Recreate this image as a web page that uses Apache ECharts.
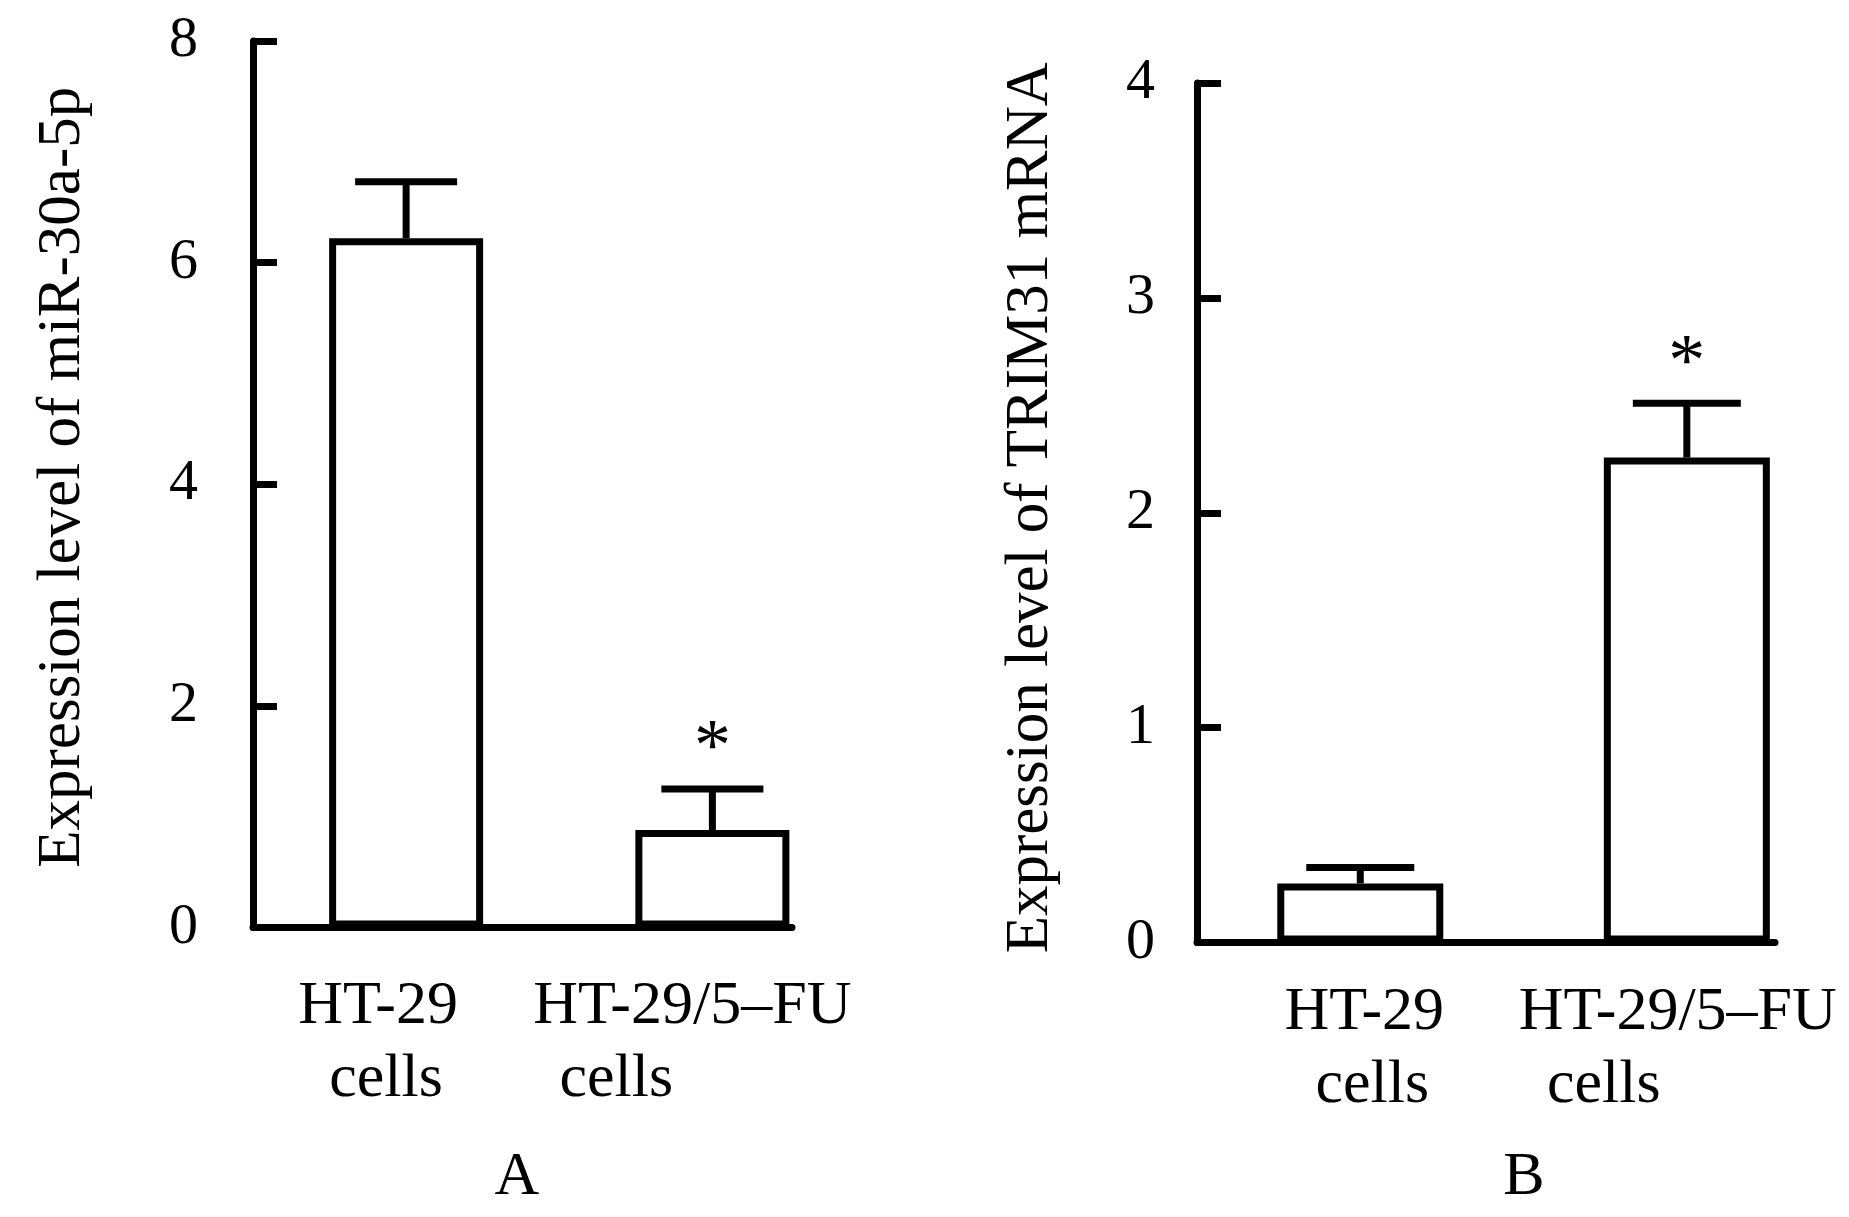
<!DOCTYPE html>
<html><head><meta charset="utf-8">
<script src="https://cdn.jsdelivr.net/npm/echarts@6/dist/echarts.min.js"></script>
<style>html,body{margin:0;padding:0;background:#fff}#c{width:1849px;height:1217px}</style>
</head><body><div id="c"></div>
<script>
// ---- data ----
const positions = [1, 2];
const catLine1 = ['HT-29', 'HT-29/5\u2013FU'];
const catLine2 = ['cells', 'cells'];
const meanA = [6.22, 0.88];
const errA = [0.51, 0.37];
const sigA = ['', '*'];
const meanB = [0.275, 2.257];
const errB = [0.074, 0.253];
const sigB = ['', '*'];
const yTicksA = [0, 2, 4, 6, 8];
const yTicksB = [0, 1, 2, 3, 4];
const yNameA = 'Expression level of miR-30a-5p';
const yNameB = 'Expression level of TRIM31 mRNA';
const panelLabels = ['A', 'B'];

// ---- styles ----
const FONT = 'Liberation Serif';
const LW = 7;
const BLACK = '#000';

function richFor(offsets) {
  const rich = {};
  offsets.forEach((pair, i) => {
    pair.forEach((o, j) => {
      rich['t' + i + j] = {
        fontFamily: FONT, fontSize: 62, color: BLACK, lineHeight: 73,
        padding: o < 0 ? [0, -2 * o, 0, 0] : [0, 0, 0, 2 * o]
      };
    });
  });
  return rich;
}
function labelFmt(v) {
  const i = positions.indexOf(v);
  if (i < 0) return '';
  return '{t' + i + '0|' + catLine1[i] + '}\n{t' + i + '1|' + catLine2[i] + '}';
}

function xAxisFor(gridIndex, max, margin, offsets) {
  return {
    type: 'value', gridIndex, min: 0.5, max,
    splitLine: { show: false },
    axisLine: { show: true, lineStyle: { color: BLACK, width: LW } },
    axisTick: { show: true, inside: true, length: 24, customValues: positions,
                lineStyle: { color: BLACK, width: LW } },
    axisLabel: { show: true, customValues: positions, margin, formatter: labelFmt,
                 rich: richFor(offsets), fontFamily: FONT, fontSize: 62, color: BLACK }
  };
}
function yAxisFor(gridIndex, ticks, name, nameGap, margin, namePad) {
  return {
    type: 'value', gridIndex, min: ticks[0], max: ticks[ticks.length - 1],
    interval: ticks[1] - ticks[0],
    name, nameLocation: 'middle', nameGap,
    nameTextStyle: { fontFamily: FONT, fontSize: 61, color: BLACK, padding: namePad },
    splitLine: { show: false },
    axisLine: { show: true, lineStyle: { color: BLACK, width: LW } },
    axisTick: { show: true, inside: true, length: 24, lineStyle: { color: BLACK, width: LW } },
    axisLabel: { margin, fontFamily: FONT, fontSize: 58, color: BLACK }
  };
}

function barSeries(idx, means, width) {
  return {
    type: 'bar', xAxisIndex: idx, yAxisIndex: idx, barWidth: width,
    data: positions.map((p, i) => [p, means[i]]),
    itemStyle: { color: '#fff', borderColor: BLACK, borderWidth: LW },
    silent: true, z: 2
  };
}
function errSeries(idx, means, errs, sigs, capHalf) {
  return {
    type: 'custom', xAxisIndex: idx, yAxisIndex: idx, z: 3, silent: true,
    data: positions.map((p, i) => [p, means[i], means[i] + errs[i]]),
    renderItem: function (params, api) {
      const base = api.coord([api.value(0), api.value(1)]);
      const top = api.coord([api.value(0), api.value(2)]);
      const st = { stroke: BLACK, lineWidth: LW };
      const children = [
        { type: 'line', shape: { x1: base[0], y1: base[1], x2: top[0], y2: top[1] }, style: st },
        { type: 'line', shape: { x1: top[0] - capHalf, y1: top[1], x2: top[0] + capHalf, y2: top[1] }, style: st }
      ];
      const s = sigs[params.dataIndex];
      if (s) {
        children.push({ type: 'text', x: top[0], y: top[1] - 38,
          style: { text: s, font: '74px ' + FONT, fill: BLACK, align: 'center', verticalAlign: 'middle' } });
      }
      return { type: 'group', children };
    }
  };
}

const chart = echarts.init(document.getElementById('c'), null, { renderer: 'canvas' });
chart.setOption({
  backgroundColor: '#fff',
  animation: false,
  grid: [
    { left: 253, top: 41, width: 539, height: 886.5, containLabel: false, outerBoundsMode: 'none' },
    { left: 1197, top: 83, width: 578, height: 859.5, containLabel: false, outerBoundsMode: 'none' }
  ],
  xAxis: [
    xAxisFor(0, 2.26, 43, [[-28, -20], [-20, -96]]),
    xAxisFor(1, 2.27, 34, [[4, 12], [-9, -83]])
  ],
  yAxis: [
    yAxisFor(0, yTicksA, yNameA, 160, 55, [0, 0, 0, 14]),
    yAxisFor(1, yTicksB, yNameB, 136, 42, [0, 0, 0, 10])
  ],
  series: [
    barSeries(0, meanA, 154),
    errSeries(0, meanA, errA, sigA, 51),
    barSeries(1, meanB, 166),
    errSeries(1, meanB, errB, sigB, 54)
  ],
  graphic: [
    { type: 'text', x: 517, y: 1178, style: { text: panelLabels[0], font: '62px ' + FONT, fill: BLACK, align: 'center', verticalAlign: 'middle' } },
    { type: 'text', x: 1524, y: 1178, style: { text: panelLabels[1], font: '62px ' + FONT, fill: BLACK, align: 'center', verticalAlign: 'middle' } }
  ]
});
</script>
</body></html>
